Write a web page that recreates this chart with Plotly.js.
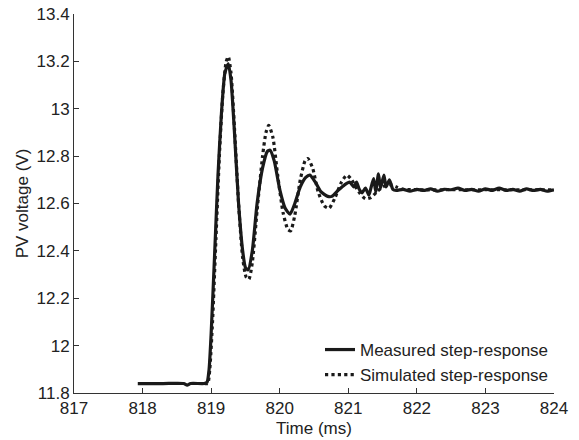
<!DOCTYPE html>
<html>
<head>
<meta charset="utf-8">
<script src="https://cdn.plot.ly/plotly-3.0.1.min.js"></script>
<style>html,body{margin:0;padding:0;background:#fff;}#chart{width:579px;height:440px;}</style>
</head>
<body>
<div id="chart"></div>
<script>
// Measured step-response (time in ms, voltage in V)
var measuredTime = [817.93, 818.3, 818.6, 818.65, 818.7, 818.9, 818.94, 818.97, 819.0, 819.05, 819.1, 819.15, 819.2, 819.25, 819.29, 819.34, 819.4, 819.46, 819.5, 819.54, 819.6, 819.67, 819.75, 819.82, 819.86, 819.92, 820.0, 820.08, 820.15, 820.22, 820.3, 820.38, 820.44, 820.52, 820.6, 820.7, 820.76, 820.85, 820.95, 821.02, 821.08, 821.12, 821.16, 821.2, 821.25, 821.3, 821.33, 821.37, 821.4, 821.44, 821.47, 821.52, 821.55, 821.6, 821.65, 821.7, 821.8, 821.9, 822.0, 822.1, 822.2, 822.3, 822.4, 822.5, 822.6, 822.7, 822.8, 822.9, 823.0, 823.1, 823.2, 823.3, 823.4, 823.5, 823.6, 823.7, 823.8, 823.9, 824.0];
var measuredVolt = [11.84, 11.84, 11.84, 11.833, 11.84, 11.84, 11.845, 11.9, 12.05, 12.38, 12.72, 12.98, 13.15, 13.19, 13.12, 12.9, 12.6, 12.4, 12.33, 12.32, 12.4, 12.6, 12.75, 12.82, 12.825, 12.78, 12.66, 12.58, 12.555, 12.6, 12.67, 12.71, 12.72, 12.69, 12.65, 12.63, 12.63, 12.655, 12.68, 12.69, 12.67, 12.69, 12.66, 12.645, 12.665, 12.635, 12.665, 12.705, 12.65, 12.725, 12.665, 12.72, 12.67, 12.7, 12.66, 12.655, 12.66, 12.652, 12.66, 12.655, 12.662, 12.652, 12.66, 12.658, 12.665, 12.655, 12.66, 12.652, 12.662, 12.655, 12.665, 12.655, 12.66, 12.652, 12.662, 12.655, 12.66, 12.652, 12.658];

// Simulated step-response
var simulatedTime = [818.9, 818.95, 818.98, 819.02, 819.07, 819.12, 819.17, 819.22, 819.25, 819.29, 819.34, 819.4, 819.46, 819.51, 819.55, 819.6, 819.67, 819.75, 819.8, 819.84, 819.9, 819.97, 820.05, 820.12, 820.16, 820.22, 820.3, 820.37, 820.41, 820.48, 820.56, 820.65, 820.72, 820.8, 820.9, 820.98, 821.05, 821.15, 821.25, 821.33, 821.42, 821.5, 821.6, 821.7, 821.8, 822.0, 822.5, 823.0, 823.5, 824.0];
var simulatedVolt = [11.84, 11.84, 11.9, 12.1, 12.45, 12.8, 13.06, 13.2, 13.22, 13.15, 12.92, 12.6, 12.37, 12.29, 12.28, 12.35, 12.57, 12.8, 12.9, 12.93, 12.88, 12.72, 12.56, 12.49, 12.485, 12.55, 12.7, 12.78, 12.79, 12.75, 12.65, 12.59, 12.58, 12.62, 12.69, 12.72, 12.7, 12.65, 12.62, 12.625, 12.65, 12.67, 12.68, 12.67, 12.66, 12.658, 12.658, 12.658, 12.658, 12.658];

var xTicks = [817, 818, 819, 820, 821, 822, 823, 824];
var yTicks = [11.8, 12, 12.2, 12.4, 12.6, 12.8, 13, 13.2, 13.4];

var fontFam = 'Liberation Sans, Arial, sans-serif';
var ink = '#1a1a1a';

var traces = [
  {x: measuredTime, y: measuredVolt, type: 'scatter', mode: 'lines', name: 'Measured step-response',
   line: {color: ink, width: 3.2, shape: 'spline', smoothing: 0.6}},
  {x: simulatedTime, y: simulatedVolt, type: 'scatter', mode: 'lines', name: 'Simulated step-response',
   line: {color: ink, width: 3.2, dash: 'dot', shape: 'spline', smoothing: 0.6}}
];

var layout = {
  width: 579, height: 440,
  margin: {l: 74, r: 25, t: 14, b: 47},
  paper_bgcolor: '#fff', plot_bgcolor: '#fff',
  font: {family: fontFam, size: 17, color: '#222'},
  showlegend: true,
  legend: {x: 1, xanchor: 'right', y: 0, yanchor: 'bottom', bgcolor: 'rgba(0,0,0,0)',
           itemwidth: 30, font: {family: fontFam, size: 17, color: '#222'}, tracegroupgap: 0},
  xaxis: {range: [817, 824], tickvals: xTicks, ticks: 'inside', ticklen: 5, tickcolor: '#333',
          showline: true, linecolor: '#333', linewidth: 1, showgrid: false, zeroline: false,
          title: {text: 'Time (ms)', font: {size: 17}, standoff: 4}},
  yaxis: {range: [11.8, 13.4], tickvals: yTicks, ticks: 'inside', ticklen: 5, tickcolor: '#333',
          showline: true, linecolor: '#333', linewidth: 1, showgrid: false, zeroline: false,
          title: {text: 'PV voltage (V)', font: {size: 17}, standoff: 3}}
};

Plotly.newPlot('chart', traces, layout, {displayModeBar: false, staticPlot: true});
</script>
</body>
</html>
